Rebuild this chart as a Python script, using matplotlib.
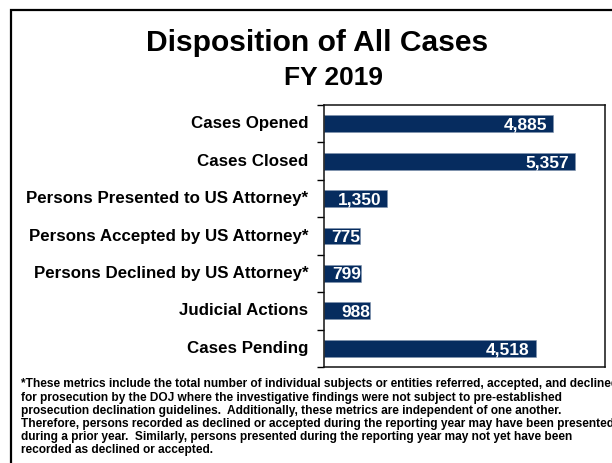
import matplotlib
matplotlib.use("Agg")
import matplotlib.pyplot as plt
from matplotlib.patches import Rectangle
from matplotlib import transforms

categories = [
    "Cases Opened",
    "Cases Closed",
    "Persons Presented to US Attorney*",
    "Persons Accepted by US Attorney*",
    "Persons Declined by US Attorney*",
    "Judicial Actions",
    "Cases Pending",
]
values = [4885, 5357, 1350, 775, 799, 988, 4518]
value_labels = ["4,885", "5,357", "1,350", "775", "799", "988", "4,518"]

title = "Disposition of All Cases"
subtitle = "FY 2019"
footnote = ("*These metrics include the total number of individual subjects or entities referred, accepted, and declined\n"
            "for prosecution by the DOJ where the investigative findings were not subject to pre-established\n"
            "prosecution declination guidelines.  Additionally, these metrics are independent of one another.\n"
            "Therefore, persons recorded as declined or accepted during the reporting year may have been presented\n"
            "during a prior year.  Similarly, persons presented during the reporting year may not yet have been\n"
            "recorded as declined or accepted.")

plt.rcParams['font.family'] = ['Liberation Sans', 'DejaVu Sans']

W, H = 612, 463
fig = plt.figure(figsize=(W / 100, H / 100), dpi=100)

# outer frame
fig.patches.append(Rectangle((10.5 / W, -0.1), 1.2, (H - 9.5) / H + 0.1,
                             transform=fig.transFigure, fill=False,
                             edgecolor='black', linewidth=1.6, clip_on=False))

ax_left, ax_right, ax_top, ax_bottom = 324, 605, 105, 367
ax = fig.add_axes([ax_left / W, 1 - ax_bottom / H,
                   (ax_right - ax_left) / W, (ax_bottom - ax_top) / H])

n = len(categories)
ypos = list(range(n))
bar_color = '#062C5F'
ax.barh(ypos, values, height=0.45, color=bar_color, edgecolor='#7f93ad',
        linewidth=0.4, zorder=2)
ax.set_xlim(0, 6000)
ax.set_ylim(n - 0.5, -0.5)

# ticks at category boundaries
ax.set_yticks([i - 0.5 for i in range(n + 1)])
ax.set_yticklabels([])
ax.tick_params(axis='y', length=5, width=1, direction='out', color='black')
ax.set_xticks([])
for s in ax.spines.values():
    s.set_linewidth(1.1)
    s.set_color('#111111')

# category labels
for y, lab in zip(ypos, categories):
    ax.text(-0.055, y, lab, transform=transforms.blended_transform_factory(ax.transAxes, ax.transData),
            ha='right', va='center', fontsize=12.2, fontweight='bold', color='black')

# value labels
for y, v, lab in zip(ypos, values, value_labels):
    pad_px = 6 if v > 1000 else 0
    off = transforms.offset_copy(ax.transData, fig=fig, x=-pad_px * 72 / 100, y=0, units='points')
    ax.text(v, y + 0.04, lab, transform=off, ha='right', va='center',
            fontsize=12.5, fontweight='bold', color='white', zorder=3)

fig.text(317.5 / W, 1 - 51 / H, title, ha='center', va='baseline',
         fontsize=21.6, fontweight='bold')
fig.text(333 / W, 1 - 85 / H, subtitle, ha='center', va='baseline',
         fontsize=19, fontweight='bold')

fig.text(21 / W, 1 - 378.5 / H, footnote, ha='left', va='top', fontsize=8.6,
         fontweight='bold', linespacing=1.13)

fig.savefig("out.png", dpi=100)
